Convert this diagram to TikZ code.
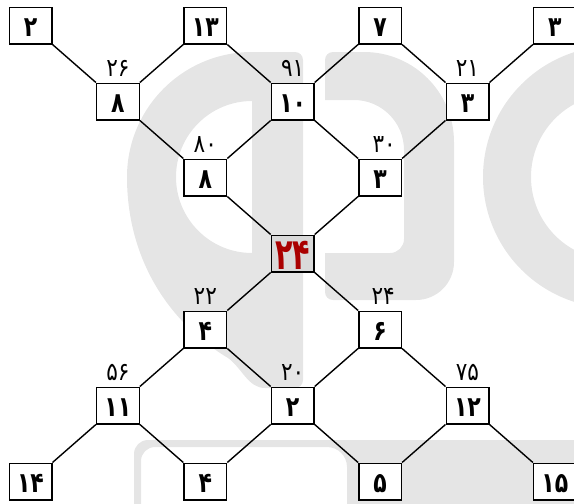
\documentclass[tikz,border=0pt]{standalone}
\usepackage{graphicx}
\usepackage{fontspec}
\newfontfamily\fa{DejaVu Sans}
\definecolor{wm}{RGB}{229,229,229}
\definecolor{ctr}{RGB}{217,217,217}
\definecolor{dred}{RGB}{170,0,0}
\newcommand\pdig[1]{\raisebox{-2pt}[\height][\depth]{\scalebox{1.1}[1.4]{#1}}}
\newcommand\cdig[1]{\raisebox{-2pt}[\height][\depth]{\scalebox{0.95}[1.45]{#1}}}
\newcommand\ldig[1]{\scalebox{1.2}[1.4]{#1}}
\begin{document}
\begin{tikzpicture}[x=1pt,y=-1pt,
  nbox/.style={draw, line width=1.4pt, fill=white, minimum width=42.6pt, minimum height=36.6pt, inner sep=0pt, font=\fa\bfseries\fontsize{20}{20}\selectfont},
  cbox/.style={nbox, fill=ctr, text=dred, font=\fa\bfseries\fontsize{30}{30}\selectfont},
  lbl/.style={inner sep=0pt, anchor=base, font=\fa\fontsize{18}{18}\selectfont},
  link/.style={line width=1.4pt}]
\useasboundingbox (0,0) rectangle (574,504);
% watermark
\begin{scope}
\clip (0,0) rectangle (574,504);
\fill[wm, even odd rule] (295,52) -- (252,52) arc[start angle=270, end angle=180, radius=125]
  .. controls (127,255) and (165,320) .. (228,358) .. controls (242,368) and (248,388) .. (265,388)
  -- (295,388) arc[start angle=90, end angle=0, radius=8] -- (303,60) arc[start angle=0, end angle=-90, radius=8] -- cycle
  (252,101) arc[start angle=270, end angle=90, radius=76] -- cycle;
\fill[wm] (325,100) -- (325,60) arc[start angle=180,end angle=270,radius=8] -- (364,52)
  arc[start angle=270,end angle=360,radius=90] -- (454,262) arc[start angle=0,end angle=90,radius=38]
  -- (333,300) arc[start angle=90,end angle=180,radius=8] -- (325,253) -- (390,253)
  arc[start angle=90,end angle=0,radius=14] -- (404,150) arc[start angle=0,end angle=-90,radius=50] -- cycle;
\fill[wm, even odd rule] (614,177) circle[radius=131] (614,177) circle[radius=83];
\fill[wm, even odd rule] (134,520) -- (134,454) arc[start angle=180,end angle=270,radius=14] -- (590,440) -- (590,520) -- cycle
  (141,520) -- (141,461) arc[start angle=180,end angle=270,radius=14] -- (327,447) arc[start angle=270,end angle=360,radius=20] -- (347,520) -- cycle;
\end{scope}
% boxes
\node[nbox] (r0c0) at (30.5,25.5) {\pdig{۲}};
\node[nbox] (r0c2) at (205.3,25.5) {\pdig{۱۳}};
\node[nbox] (r0c4) at (380.1,25.5) {\pdig{۷}};
\node[nbox] (r0c6) at (554.9,25.5) {\pdig{۳}};
\node[nbox] (r1c1) at (117.9,101.5) {\pdig{۸}};
\node[nbox] (r1c3) at (292.7,101.5) {\pdig{۱۰}};
\node[nbox] (r1c5) at (467.5,101.5) {\pdig{۳}};
\node[nbox] (r2c2) at (205.3,177.5) {\pdig{۸}};
\node[nbox] (r2c4) at (380.1,177.5) {\pdig{۳}};
\node[cbox] (r3c3) at (292.7,253.5) {\cdig{۲۴}};
\node[nbox] (r4c2) at (205.3,329.5) {\pdig{۴}};
\node[nbox] (r4c4) at (380.1,329.5) {\pdig{۶}};
\node[nbox] (r5c1) at (117.9,405.5) {\pdig{۱۱}};
\node[nbox] (r5c3) at (292.7,405.5) {\pdig{۲}};
\node[nbox] (r5c5) at (467.5,405.5) {\pdig{۱۲}};
\node[nbox] (r6c0) at (30.5,481.5) {\pdig{۱۴}};
\node[nbox] (r6c2) at (205.3,481.5) {\pdig{۴}};
\node[nbox] (r6c4) at (380.1,481.5) {\pdig{۵}};
\node[nbox] (r6c6) at (554.9,481.5) {\pdig{۱۵}};
% labels
\node[lbl] (l11) at ([yshift=6.5pt]r1c1.north) {\ldig{۲۶}};
\node[lbl] (l13) at ([yshift=6.5pt]r1c3.north) {\ldig{۹۱}};
\node[lbl] (l15) at ([yshift=6.5pt]r1c5.north) {\ldig{۲۱}};
\node[lbl] (l22) at ([yshift=6.5pt]r2c2.north) {\ldig{۸۰}};
\node[lbl] (l24) at ([yshift=6.5pt,xshift=4pt]r2c4.north) {\ldig{۳۰}};
\node[lbl] (l42) at ([yshift=6.5pt]r4c2.north) {\ldig{۲۲}};
\node[lbl] (l44) at ([yshift=6.5pt,xshift=3pt]r4c4.north) {\ldig{۲۴}};
\node[lbl] (l51) at ([yshift=6.5pt]r5c1.north) {\ldig{۵۶}};
\node[lbl] (l53) at ([yshift=6.5pt]r5c3.north) {\ldig{۲۰}};
\node[lbl] (l55) at ([yshift=6.5pt]r5c5.north) {\ldig{۷۵}};
% links
\draw[link] (r0c0.south east) -- (r1c1.north west);
\draw[link] (r0c2.south west) -- (r1c1.north east);
\draw[link] (r0c2.south east) -- (r1c3.north west);
\draw[link] (r0c4.south west) -- (r1c3.north east);
\draw[link] (r0c4.south east) -- (r1c5.north west);
\draw[link] (r0c6.south west) -- (r1c5.north east);
\draw[link] (r1c1.south east) -- (r2c2.north west);
\draw[link] (r1c3.south west) -- (r2c2.north east);
\draw[link] (r1c3.south east) -- (r2c4.north west);
\draw[link] (r1c5.south west) -- (r2c4.north east);
\draw[link] (r2c2.south east) -- (r3c3.north west);
\draw[link] (r2c4.south west) -- (r3c3.north east);
\draw[link] (r3c3.south west) -- (r4c2.north east);
\draw[link] (r3c3.south east) -- (r4c4.north west);
\draw[link] (r4c2.south west) -- (r5c1.north east);
\draw[link] (r4c2.south east) -- (r5c3.north west);
\draw[link] (r4c4.south west) -- (r5c3.north east);
\draw[link] (r4c4.south east) -- (r5c5.north west);
\draw[link] (r5c1.south west) -- (r6c0.north east);
\draw[link] (r5c1.south east) -- (r6c2.north west);
\draw[link] (r5c3.south west) -- (r6c2.north east);
\draw[link] (r5c3.south east) -- (r6c4.north west);
\draw[link] (r5c5.south west) -- (r6c4.north east);
\draw[link] (r5c5.south east) -- (r6c6.north west);
\end{tikzpicture}
\end{document}
